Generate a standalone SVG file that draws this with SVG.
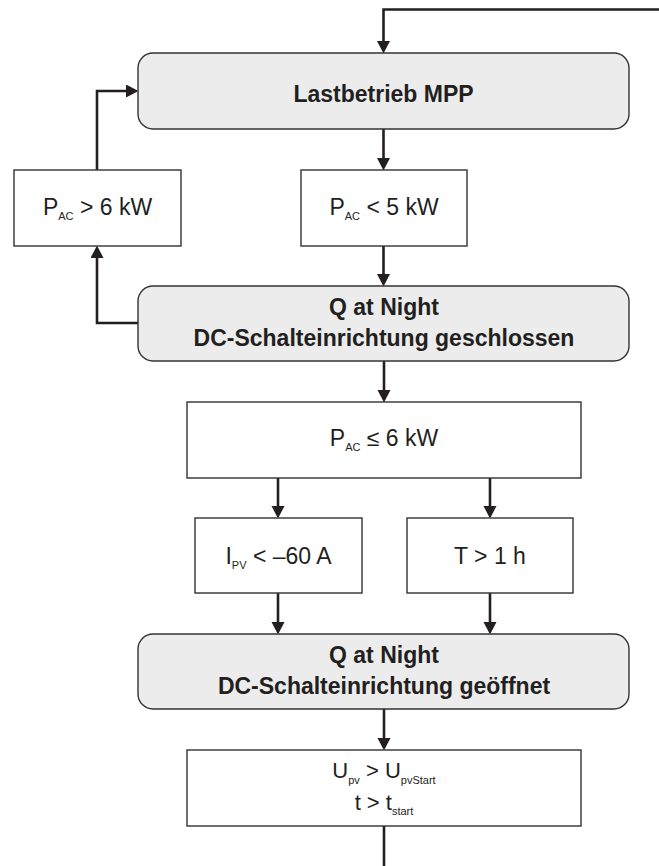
<svg xmlns="http://www.w3.org/2000/svg" width="659" height="866" viewBox="0 0 659 866">
<style>
.state{fill:#ebeceb;stroke:#333;stroke-width:1.4}
.cond{fill:#fff;stroke:#333;stroke-width:1.4}
.b{font-family:"Liberation Sans",Arial,sans-serif;font-weight:bold;font-size:23px;fill:#231f20;text-anchor:middle}
.r{font-family:"Liberation Sans",Arial,sans-serif;font-size:23px;fill:#231f20;text-anchor:middle}
.r2{font-family:"Liberation Sans",Arial,sans-serif;font-size:22px;fill:#231f20;text-anchor:middle}
.sub{font-size:11px}
.c{fill:none;stroke:#231f20;stroke-width:2.6}
</style>
<defs>
<marker id="ah" markerUnits="userSpaceOnUse" markerWidth="13" markerHeight="14" refX="6" refY="6.5" orient="auto">
<path d="M0,0 L12.5,6.5 L0,13 z" fill="#231f20"/>
</marker>
</defs>
<g id="connectors">
<path class="c" d="M659,9.5 H383.5 V47" marker-end="url(#ah)"/>
<path class="c" d="M383.5,129 V164" marker-end="url(#ah)"/>
<path class="c" d="M383.5,246 V280" marker-end="url(#ah)"/>
<path class="c" d="M138,323 H97 V252" marker-end="url(#ah)"/>
<path class="c" d="M97,170 V91 H132" marker-end="url(#ah)"/>
<path class="c" d="M384,361 V396" marker-end="url(#ah)"/>
<path class="c" d="M278,478 V512" marker-end="url(#ah)"/>
<path class="c" d="M490,478 V512" marker-end="url(#ah)"/>
<path class="c" d="M278,593 V628" marker-end="url(#ah)"/>
<path class="c" d="M490,593 V628" marker-end="url(#ah)"/>
<path class="c" d="M384,709 V744" marker-end="url(#ah)"/>
<path class="c" d="M384,826 V866"/>
</g>
<g id="lastbetrieb">
<rect class="state" x="138" y="53" width="491" height="76" rx="15"/>
<text class="b" x="383.5" y="101.5">Lastbetrieb MPP</text>
</g>
<g id="pac-gt-6">
<rect class="cond" x="14" y="170" width="167" height="76"/>
<text class="r" x="97.5" y="215">P<tspan class="sub" dy="5">AC</tspan><tspan dy="-5"> &gt; 6 kW</tspan></text>
</g>
<g id="pac-lt-5">
<rect class="cond" x="301" y="170" width="166" height="76"/>
<text class="r" x="384" y="215">P<tspan class="sub" dy="5">AC</tspan><tspan dy="-5"> &lt; 5 kW</tspan></text>
</g>
<g id="qnight-closed">
<rect class="state" x="138" y="286" width="491" height="75" rx="15"/>
<text class="b" x="384" y="314.5">Q at Night</text>
<text class="b" x="384" y="345.5">DC-Schalteinrichtung geschlossen</text>
</g>
<g id="pac-le-6">
<rect class="cond" x="187" y="402" width="394" height="76"/>
<text class="r" x="384" y="445.5">P<tspan class="sub" dy="5">AC</tspan><tspan dy="-5"> ≤ 6 kW</tspan></text>
</g>
<g id="ipv">
<rect class="cond" x="195" y="518" width="167" height="75"/>
<text class="r" x="278.5" y="563.5">I<tspan class="sub" dy="5">PV</tspan><tspan dy="-5"> &lt; –60 A</tspan></text>
</g>
<g id="t-gt-1h">
<rect class="cond" x="407" y="518" width="166" height="75"/>
<text class="r" x="490" y="564">T &gt; 1 h</text>
</g>
<g id="qnight-open">
<rect class="state" x="138" y="634" width="491" height="75" rx="15"/>
<text class="b" x="384" y="662.5">Q at Night</text>
<text class="b" x="384" y="693.5">DC-Schalteinrichtung geöffnet</text>
</g>
<g id="upv-start">
<rect class="cond" x="187" y="750" width="394" height="76"/>
<text class="r2" x="384" y="778">U<tspan class="sub" dy="6">pv</tspan><tspan dy="-6"> &gt; U</tspan><tspan class="sub" dy="6">pvStart</tspan></text>
<text class="r2" x="384" y="810">t &gt; t<tspan class="sub" dy="5">start</tspan></text>
</g>
</svg>
